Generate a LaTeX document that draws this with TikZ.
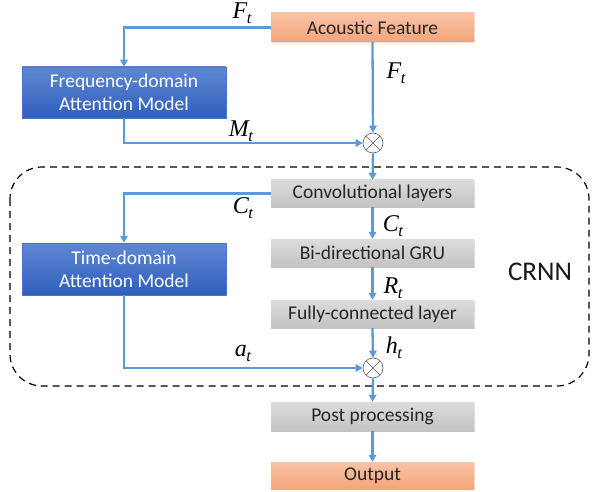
\documentclass[tikz,border=0pt]{standalone}
\usepackage{fontspec}
\setmainfont{Carlito}
\newfontfamily\labfont{Liberation Serif}
\usetikzlibrary{arrows.meta,shadows}
\definecolor{arrowblue}{HTML}{5B9BD5}
\definecolor{bluetop}{HTML}{5F87D2}
\definecolor{bluebot}{HTML}{2F5FBD}
\definecolor{blueedge}{HTML}{4A74C6}
\definecolor{ortop}{HTML}{F9C3A5}
\definecolor{orbot}{HTML}{F4A47B}
\definecolor{graytop}{HTML}{DCDCDC}
\definecolor{graybot}{HTML}{C3C3C3}
\newcommand{\symlab}[2]{{\fontsize{24}{26}\labfont\itshape #1}\kern-0.5pt\raisebox{-5pt}{\fontsize{16.5}{18}\labfont\itshape #2}}
\tikzset{
  basebox/.style={inner sep=0pt, align=center, font=\fontsize{19.5}{23}\selectfont,
    drop shadow={opacity=0.25, shadow xshift=1pt, shadow yshift=-1pt}},
  bluebox/.style={basebox, draw=blueedge, line width=0.5pt, top color=bluetop, bottom color=bluebot,
    text=white, minimum width=204pt, minimum height=51pt},
  orangebox/.style={basebox, top color=ortop, bottom color=orbot, text=black!85,
    minimum width=203pt},
  graybox/.style={basebox, top color=graytop, bottom color=graybot, text=black!85,
    minimum width=203pt},
  mult/.style={circle, draw=black!65, line width=0.6pt, fill=white, minimum size=20pt, inner sep=0pt,
    path picture={\draw[black!65, line width=0.6pt]
      (path picture bounding box.north west) -- (path picture bounding box.south east)
      (path picture bounding box.north east) -- (path picture bounding box.south west);}},
  flow/.style={draw=arrowblue, line width=2.3pt, -{Triangle[length=7pt,width=7.5pt]}},
  mlabel/.style={inner sep=0pt},
}
\begin{document}
\begin{tikzpicture}[x=1pt,y=-1pt]
\useasboundingbox (0,0) rectangle (592,492);
% dashed CRNN region
\draw[dashed, line width=1.2pt, dash pattern=on 7pt off 5pt, rounded corners=32pt] (10,167) rectangle (589,386);
\node[font=\fontsize{27}{30}\selectfont, text=black!90] (crnn) at (540,272) {CRNN};
% nodes
\node[orangebox, minimum height=29pt] (af) at (372.5,27.5) {Acoustic Feature};
\node[bluebox] (freq) at (124,92.5) {Frequency-domain\\Attention Model};
\node[mult] (m1) at (373,143) {};
\node[graybox, minimum height=27pt] (conv) at (372.5,193.5) {Convolutional layers};
\node[graybox, minimum height=28pt] (gru) at (372.5,253) {Bi-directional GRU};
\node[graybox, minimum height=28pt] (fc) at (372.5,314) {Fully-connected layer};
\node[bluebox, minimum height=52pt] (time) at (124,269) {Time-domain\\Attention Model};
\node[mult] (m2) at (373,368) {};
\node[graybox, minimum height=29pt] (post) at (372.5,416.5) {Post processing};
\node[orangebox, minimum height=27pt] (out) at (372.5,475.5) {Output};
% connectors
\draw[flow] (af.west) -| (freq.north);
\draw[flow] (af.south) -- (m1.north);
\draw[flow] (freq.south) |- (m1.west);
\draw[flow] (m1.south) -- (conv.north);
\draw[flow] (conv.west) -| (time.north);
\draw[flow] (conv.south) -- (gru.north);
\draw[flow] (gru.south) -- (fc.north);
\draw[flow] (fc.south) -- (m2.north);
\draw[flow] (time.south) |- (m2.west);
\draw[flow] (m2.south) -- (post.north);
\draw[flow] (post.south) -- (out.north);
% labels
\node[mlabel] (l1) at (242,13) {\symlab{F}{t}};
\node[mlabel] (l2) at (396,73) {\symlab{F}{t}};
\node[mlabel] (l3) at (241,131) {\symlab{M}{t}};
\node[mlabel] (l4) at (243,208) {\symlab{C}{t}};
\node[mlabel] (l5) at (393,226) {\symlab{C}{t}};
\node[mlabel] (l6) at (393,288) {\symlab{R}{t}};
\node[mlabel] (l7) at (394,348) {\symlab{h}{t}};
\node[mlabel] (l8) at (243,353) {\symlab{a}{t}};
\end{tikzpicture}
\end{document}
